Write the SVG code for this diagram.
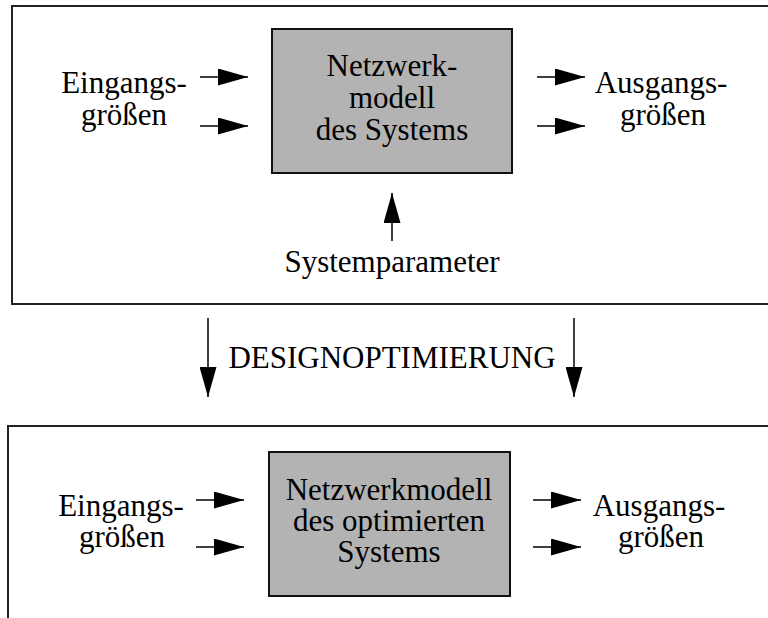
<svg xmlns="http://www.w3.org/2000/svg" width="768" height="618" viewBox="0 0 768 618">
  <style>
    .frame { fill: none; stroke: #222; stroke-width: 2; }
    .model { fill: #b3b3b3; stroke: #111; stroke-width: 2; }
    .t { font-family: "Liberation Serif", "Times New Roman", serif; font-size: 31px; fill: #000; text-anchor: middle; }
    .arr { stroke: #000; stroke-width: 1.5; fill: none; marker-end: url(#head); }
  </style>
  <defs>
    <marker id="head" markerUnits="userSpaceOnUse" viewBox="0 0 30 17" refX="30" refY="8.5" markerWidth="30" markerHeight="17" orient="auto">
      <path d="M0,0 L30,8.5 L0,17 z" fill="#000"/>
    </marker>
  </defs>
  <rect width="768" height="618" fill="#fff"/>

  <g id="frame-top">
    <rect class="frame" x="12" y="6" width="780" height="298"/>
  </g>
  <g id="frame-bottom">
    <rect class="frame" x="8" y="426" width="790" height="220"/>
  </g>

  <g id="model-top">
    <rect class="model" x="272" y="29" width="240" height="144"/>
    <text class="t" x="392" y="76">Netzwerk-</text>
    <text class="t" x="392" y="108">modell</text>
    <text class="t" x="392" y="140">des Systems</text>
  </g>
  <g id="inputs-top">
    <text class="t" x="124" y="93">Eingangs-</text>
    <text class="t" x="124" y="125">größen</text>
  </g>
  <g id="outputs-top">
    <text class="t" x="661" y="93">Ausgangs-</text>
    <text class="t" x="663" y="125">größen</text>
  </g>
  <g id="params">
    <text class="t" x="392" y="272">Systemparameter</text>
  </g>

  <g id="optimierung">
    <text class="t" x="392" y="368">DESIGNOPTIMIERUNG</text>
  </g>

  <g id="model-bottom">
    <rect class="model" x="269" y="452" width="241" height="144"/>
    <text class="t" x="389" y="500">Netzwerkmodell</text>
    <text class="t" x="389" y="531">des optimierten</text>
    <text class="t" x="389" y="562">Systems</text>
  </g>
  <g id="inputs-bottom">
    <text class="t" x="121" y="516">Eingangs-</text>
    <text class="t" x="122" y="547">größen</text>
  </g>
  <g id="outputs-bottom">
    <text class="t" x="659" y="516">Ausgangs-</text>
    <text class="t" x="661" y="547">größen</text>
  </g>

  <g id="connectors">
    <line class="arr" x1="200" y1="77" x2="248" y2="77"/>
    <line class="arr" x1="200" y1="126" x2="248" y2="126"/>
    <line class="arr" x1="537" y1="77" x2="585" y2="77"/>
    <line class="arr" x1="537" y1="126" x2="585" y2="126"/>
    <line class="arr" x1="392" y1="241" x2="392" y2="193"/>
    <line class="arr" x1="208" y1="318" x2="208" y2="397"/>
    <line class="arr" x1="574" y1="318" x2="574" y2="397"/>
    <line class="arr" x1="196" y1="500" x2="244" y2="500"/>
    <line class="arr" x1="196" y1="547" x2="244" y2="547"/>
    <line class="arr" x1="533" y1="500" x2="581" y2="500"/>
    <line class="arr" x1="533" y1="547" x2="581" y2="547"/>
  </g>
</svg>
